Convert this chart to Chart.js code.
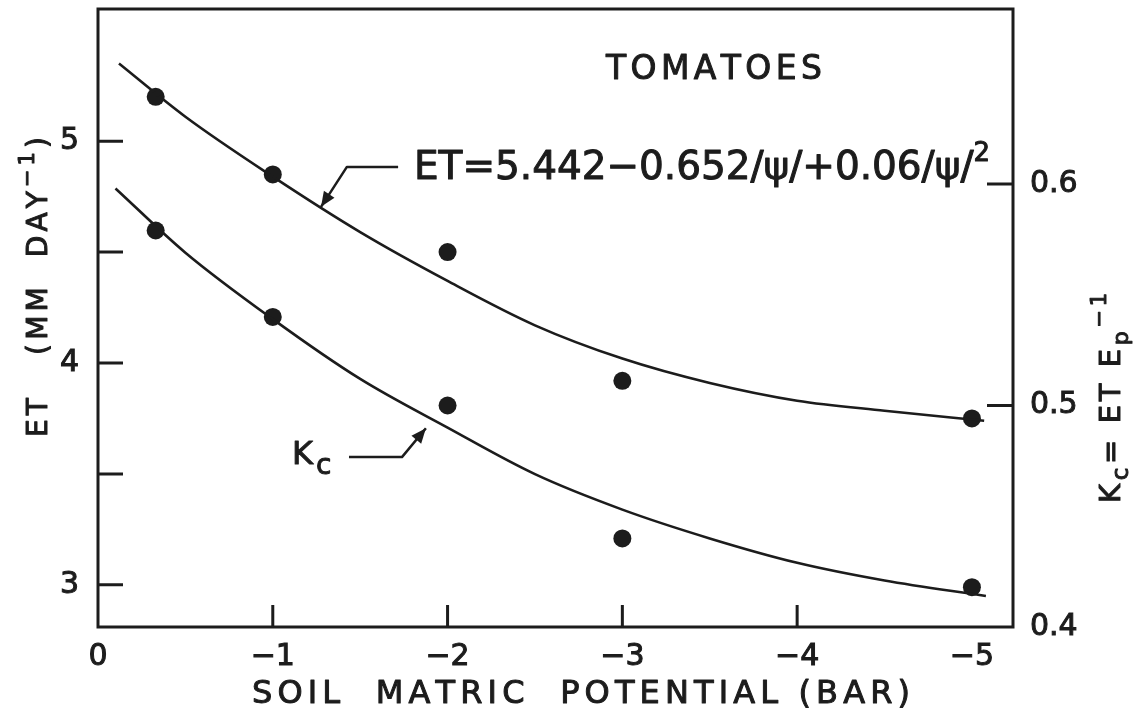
<!DOCTYPE html>
<html>
<head>
<meta charset="utf-8">
<script src="https://cdn.jsdelivr.net/npm/chart.js@4.4.1/dist/chart.umd.min.js"></script>
<style>
  html, body { margin: 0; padding: 0; background: #ffffff; }
  #wrap { width: 1145px; height: 714px; }
</style>
</head>
<body>
<div id="wrap"><canvas id="c" width="1145" height="714"></canvas></div>
<script>
// ---------- data ----------
const psiObserved = [-0.33, -1, -2, -3, -5];
const etObserved  = [5.20, 4.85, 4.50, 3.92, 3.75];
const kcObserved  = [0.579, 0.540, 0.500, 0.440, 0.418];

const etCurvePsi = [-0.12, -0.5, -1, -1.5, -2, -2.5, -3, -3.5, -4, -4.5, -5.07];
const etCurve    = [5.35, 5.11, 4.84, 4.59, 4.37, 4.17, 4.02, 3.91, 3.83, 3.785, 3.74];

const kcCurvePsi = [-0.10, -0.5, -1, -1.5, -2, -2.5, -3, -3.5, -4, -4.5, -5.08];
const kcCurve    = [0.598, 0.569, 0.539, 0.512, 0.490, 0.469, 0.453, 0.440, 0.429, 0.421, 0.414];

const xTicks      = [0, -1, -2, -3, -4, -5];
const xTickLabels = ['0', '−1', '−2', '−3', '−4', '−5'];
const xTickMarks  = [-1, -2, -3, -4];
const etTicks      = [3, 3.5, 4, 4.5, 5];
const etTickLabels = ['3', '', '4', '', '5'];
const kcTicks      = [0.4, 0.5, 0.6];
const kcTickLabels = ['0.4', '0.5', '0.6'];
const kcTickMarks  = [0.5, 0.6];

const xRange  = [-5.235, 0];
const etRange = [2.81, 5.596];
const kcRange = [0.4, 0.679];

const titleText    = 'TOMATOES';
const equationText = 'ET=5.442−0.652/ψ/+0.06/ψ/';
const equationSup  = '2';
const xTitle = 'SOIL  MATRIC  POTENTIAL (BAR)';

// ---------- styling ----------
const INK = '#1c1c1c';
const FONT = '"DejaVu Sans", "Liberation Sans", sans-serif';

function drawRun(ctx, segs, x0, y0, target) {
  let natural = 0, n = 0;
  segs.forEach(s => {
    ctx.font = `${s.size}px ${FONT}`;
    for (const ch of s.t) { natural += ctx.measureText(ch).width; n++; }
  });
  const L = (target && n > 1) ? (target - natural) / (n - 1) : 0;
  let x = x0;
  ctx.textAlign = 'left';
  ctx.textBaseline = 'alphabetic';
  ctx.lineWidth = 1;
  ctx.lineJoin = 'round';
  segs.forEach(s => {
    ctx.font = `${s.size}px ${FONT}`;
    for (const ch of s.t) {
      ctx.fillText(ch, x, y0 + (s.dy || 0));
      ctx.strokeText(ch, x, y0 + (s.dy || 0));
      x += ctx.measureText(ch).width + L;
    }
  });
}

function arrow(ctx, pts, head) {
  ctx.beginPath();
  ctx.moveTo(pts[0][0], pts[0][1]);
  for (let i = 1; i < pts.length; i++) ctx.lineTo(pts[i][0], pts[i][1]);
  ctx.stroke();
  const a = pts[pts.length - 2], b = pts[pts.length - 1];
  const ang = Math.atan2(b[1] - a[1], b[0] - a[0]);
  ctx.beginPath();
  ctx.moveTo(b[0], b[1]);
  ctx.lineTo(b[0] - head * Math.cos(ang) + head * 0.42 * Math.sin(ang), b[1] - head * Math.sin(ang) - head * 0.42 * Math.cos(ang));
  ctx.lineTo(b[0] - head * Math.cos(ang) - head * 0.42 * Math.sin(ang), b[1] - head * Math.sin(ang) + head * 0.42 * Math.cos(ang));
  ctx.closePath();
  ctx.fill();
}

// annotation anchors (data units)
const anchors = {
  title:    { psi: -2.906, et: 5.282, width: 216 },
  equation: { psi: -1.808, et: 4.830, width: 576 },
  eqArrow:  [[-1.717, 4.884], [-1.424, 4.884], [-1.276, 4.704]],
  kcLabel:  { psi: -1.110, et: 3.545 },
  kcArrow:  [[-1.436, 3.576], [-1.739, 3.576], [-1.876, 3.706]]
};

const decor = {
  id: 'decor',
  beforeDraw(chart) {
    const ctx = chart.ctx;
    ctx.save();
    ctx.fillStyle = '#ffffff';
    ctx.fillRect(0, 0, chart.width, chart.height);
    ctx.restore();
  },
  afterDatasetsDraw(chart) {
    const ctx = chart.ctx;
    const a = chart.chartArea;
    const xs = chart.scales.x, ys = chart.scales.y, ks = chart.scales.y2;
    ctx.save();
    ctx.strokeStyle = INK;
    ctx.fillStyle = INK;
    ctx.lineCap = 'butt';
    // frame
    ctx.lineWidth = 3;
    ctx.strokeRect(a.left, a.top, a.right - a.left, a.bottom - a.top);
    // tick marks (inward)
    ctx.beginPath();
    etTicks.forEach(v => { const y = ys.getPixelForValue(v); ctx.moveTo(a.left, y); ctx.lineTo(a.left + 25, y); });
    kcTickMarks.forEach(v => { const y = ks.getPixelForValue(v); ctx.moveTo(a.right, y); ctx.lineTo(a.right - 26, y); });
    xTickMarks.forEach(v => { const x = xs.getPixelForValue(v); ctx.moveTo(x, a.bottom); ctx.lineTo(x, a.bottom - 22); });
    ctx.stroke();

    // in-plot annotations
    const P = (psi, et) => [xs.getPixelForValue(psi), ys.getPixelForValue(et)];
    let p = P(anchors.title.psi, anchors.title.et);
    drawRun(ctx, [{ t: titleText, size: 33 }], p[0], p[1], anchors.title.width);

    p = P(anchors.equation.psi, anchors.equation.et);
    drawRun(ctx, [{ t: equationText, size: 39 }, { t: equationSup, size: 26, dy: -18 }], p[0], p[1], anchors.equation.width);

    ctx.lineWidth = 2.5;
    arrow(ctx, anchors.eqArrow.map(q => P(q[0], q[1])), 15);
    arrow(ctx, anchors.kcArrow.map(q => P(q[0], q[1])), 15);

    p = P(anchors.kcLabel.psi, anchors.kcLabel.et);
    drawRun(ctx, [{ t: 'K', size: 32 }], p[0], p[1], 0);
    ctx.font = `32px ${FONT}`;
    const kw = ctx.measureText('K').width;
    drawRun(ctx, [{ t: 'c', size: 28 }], p[0] + kw + 3, p[1] + 10, 0);

    // axis titles
    drawRun(ctx, [{ t: xTitle, size: 32 }], a.left + 154, xs.bottom - 11, 658);
    // left title (rotated)
    ctx.save();
    ctx.translate(37, 287);
    ctx.rotate(-Math.PI / 2);
    drawRun(ctx, [{ t: 'ET   (MM  DAY', size: 28 }, { t: '−1', size: 21, dy: -13 }, { t: ')', size: 28 }], -150, 10, 300);
    ctx.restore();
    // right title (rotated)
    ctx.save();
    ctx.translate(1110, 398);
    ctx.rotate(-Math.PI / 2);
    drawRun(ctx, [
      { t: 'K', size: 29 }, { t: 'c', size: 23, dy: 8 },
      { t: '= ET E', size: 29 }, { t: 'p', size: 22, dy: 8 },
      { t: '−1', size: 21, dy: -14 }
    ], -105, 10, 210);
    ctx.restore();

    ctx.restore();
  }
};

const tickFont = { family: FONT, size: 30 };
const zeroPadY = s => { s.paddingTop = 0; s.paddingBottom = 0; };

new Chart(document.getElementById('c'), {
  type: 'scatter',
  data: {
    datasets: [
      {
        label: 'ET fit',
        data: etCurvePsi.map((x, i) => ({ x, y: etCurve[i] })),
        yAxisID: 'y', showLine: true, borderColor: INK, borderWidth: 2.6,
        pointRadius: 0, cubicInterpolationMode: 'monotone', fill: false
      },
      {
        label: 'Kc fit',
        data: kcCurvePsi.map((x, i) => ({ x, y: kcCurve[i] })),
        yAxisID: 'y2', showLine: true, borderColor: INK, borderWidth: 2.6,
        pointRadius: 0, cubicInterpolationMode: 'monotone', fill: false
      },
      {
        label: 'ET',
        data: psiObserved.map((x, i) => ({ x, y: etObserved[i] })),
        yAxisID: 'y', showLine: false, pointRadius: 9, pointBackgroundColor: INK, pointBorderWidth: 0
      },
      {
        label: 'Kc',
        data: psiObserved.map((x, i) => ({ x, y: kcObserved[i] })),
        yAxisID: 'y2', showLine: false, pointRadius: 9, pointBackgroundColor: INK, pointBorderWidth: 0
      }
    ]
  },
  options: {
    responsive: false,
    devicePixelRatio: 1,
    animation: false,
    layout: { padding: { top: 5, left: 0, right: 0, bottom: 0 } },
    plugins: { legend: { display: false }, tooltip: { enabled: false } },
    scales: {
      x: {
        type: 'linear', reverse: true, min: xRange[0], max: xRange[1],
        grid: { display: false }, border: { display: false },
        afterBuildTicks: s => { s.ticks = xTicks.map(v => ({ value: v })); },
        afterFit: s => { s.height = 87; s.paddingLeft = 0; s.paddingRight = 0; },
        ticks: {
          autoSkip: false, maxRotation: 0, padding: 4, color: INK, font: tickFont,
          textStrokeColor: INK, textStrokeWidth: 1,
          callback: v => xTickLabels[xTicks.indexOf(v)]
        }
      },
      y: {
        type: 'linear', position: 'left', min: etRange[0], max: etRange[1],
        grid: { display: false }, border: { display: false },
        afterBuildTicks: s => { s.ticks = etTicks.map(v => ({ value: v })); },
        afterFit: s => { s.width = 98; zeroPadY(s); },
        ticks: {
          autoSkip: false, padding: 11, color: INK, font: tickFont,
          textStrokeColor: INK, textStrokeWidth: 1,
          callback: v => etTickLabels[etTicks.indexOf(v)]
        }
      },
      y2: {
        type: 'linear', position: 'right', min: kcRange[0], max: kcRange[1],
        grid: { display: false }, border: { display: false },
        afterBuildTicks: s => { s.ticks = kcTicks.map(v => ({ value: v })); },
        afterFit: s => { s.width = 132; zeroPadY(s); },
        ticks: {
          autoSkip: false, padding: 9, color: INK, font: tickFont,
          textStrokeColor: INK, textStrokeWidth: 1,
          callback: v => kcTickLabels[kcTicks.indexOf(v)]
        }
      }
    }
  },
  plugins: [decor]
});
</script>
</body>
</html>
